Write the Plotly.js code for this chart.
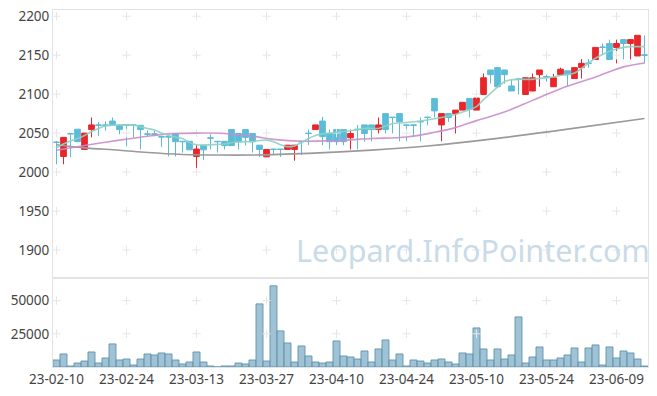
<!DOCTYPE html>
<html><head><meta charset="utf-8">
<script src="https://cdn.plot.ly/plotly-3.0.1.min.js"></script>
<style>html,body{margin:0;padding:0;background:#fff;}#chart{width:657px;height:396px;}</style>
</head><body><div id="chart"></div>
<script>
const dates = ["23-02-10","23-02-13","23-02-14","23-02-15","23-02-16","23-02-17","23-02-20","23-02-21","23-02-22","23-02-23",
"23-02-24","23-02-27","23-02-28","23-03-02","23-03-03","23-03-06","23-03-07","23-03-08","23-03-09","23-03-10",
"23-03-13","23-03-14","23-03-15","23-03-16","23-03-17","23-03-20","23-03-21","23-03-22","23-03-23","23-03-24",
"23-03-27","23-03-28","23-03-29","23-03-30","23-03-31","23-04-03","23-04-04","23-04-05","23-04-06","23-04-07",
"23-04-10","23-04-11","23-04-12","23-04-13","23-04-14","23-04-17","23-04-18","23-04-19","23-04-20","23-04-21",
"23-04-24","23-04-25","23-04-26","23-04-27","23-04-28","23-05-02","23-05-03","23-05-04","23-05-08","23-05-09",
"23-05-10","23-05-11","23-05-12","23-05-15","23-05-16","23-05-17","23-05-18","23-05-19","23-05-22","23-05-23",
"23-05-24","23-05-25","23-05-26","23-05-30","23-05-31","23-06-01","23-06-02","23-06-05","23-06-07","23-06-08",
"23-06-09","23-06-12","23-06-13","23-06-14","23-06-15"];

const openV = [2038.5,2020,2049.5,2055,2029,2054.5,2060.5,2060.5,2065.5,2060,
2060.5,2060.5,2060,2049,2049,2045.5,2045.5,2049.5,2039.5,2039.5,
2020,2034.5,2044,2039.5,2039.5,2054.5,2049.5,2054.5,2049.5,2034.5,
2019.5,2029.5,2029.5,2029,2029,2039.5,2050,2054.5,2065.5,2049.5,
2054.5,2054.5,2044,2055,2060.5,2060.5,2054.5,2075,2070.5,2075,
2060.5,2060.5,2065,2070.5,2094.5,2060.5,2075,2075,2079.5,2094.5,
2079.5,2099.5,2131,2134,2131,2110.5,2119.5,2099.5,2104,2125,
2122.5,2109.5,2125,2130,2120,2134,2140,2144.5,2160.5,2165,
2160,2170,2165,2149,2150.5];
const highV = [2040,2045,2049.5,2055,2050,2070,2064.5,2065,2070,2060,
2060.5,2061,2060,2053.5,2053.5,2046,2046,2049.5,2039.5,2039.5,
2034.5,2034.5,2048.5,2039.5,2039.5,2054.5,2049.5,2054.5,2049.5,2034.5,
2029,2030,2029.5,2034.5,2034.5,2040,2054.5,2060.5,2071,2054.5,
2054.5,2054.5,2054.5,2060.5,2060.5,2060.5,2070,2075,2070.5,2075,
2060.5,2060.5,2070,2070.5,2094.5,2075,2075,2079.5,2089.5,2094.5,
2095,2126.5,2131,2134,2131,2119,2121,2121,2126.5,2131,
2125,2126,2134,2130,2134,2145,2145,2160,2165,2170,
2170,2170,2170,2175.5,2175.5];
const lowV = [2010,2010,2019,2039,2029,2044.5,2046,2053,2060,2048.5,
2033,2044.5,2029,2046,2046,2032,2020,2020,2025,2028.5,
2005,2015.5,2029,2025,2029,2034,2029,2034,2025,2019.5,
2019.5,2022,2019.5,2029,2014.5,2022,2034.5,2054.5,2034.5,2029,
2034.5,2034.5,2029,2029,2039,2039.5,2049.5,2049.5,2049.5,2039.5,
2039.5,2045,2039.5,2060,2070,2039.5,2064.5,2049.5,2079.5,2070,
2079.5,2099.5,2113.5,2109.5,2113.5,2104,2099.5,2099.5,2104,2109.5,
2116,2109.5,2125,2109.5,2120,2120,2134,2144.5,2150,2144.5,
2139.5,2144.5,2144.5,2149,2139.5];
const closeV = [2038,2044.5,2049,2039,2050,2060.5,2060,2060,2060.5,2054.5,
2060,2060,2054.5,2048.5,2048.5,2045,2045,2039,2039,2028.5,
2029.5,2028.5,2043.5,2039,2034,2034,2039,2044.5,2039,2029,
2029,2029,2029,2034.5,2034.5,2039,2049.5,2060.5,2045.5,2039,
2039,2039,2049.5,2054.5,2049.5,2054.5,2060.5,2054.5,2070,2064.5,
2060,2060,2064.5,2070,2078.5,2075,2070,2079.5,2089.5,2080.5,
2095,2121,2125,2109.5,2125,2104,2119,2121,2121,2131,
2122,2121,2132,2125,2134,2139.5,2139.5,2160,2160,2144.5,
2165,2165,2170,2175.5,2150];

const volume = [5280,9800,750,3000,4500,11300,3000,6800,17350,5300,
6000,1500,6000,9800,9050,10560,9800,5280,2260,3770,
11300,3770,750,0,750,750,3000,2260,5280,47500,
4500,61100,27150,18100,3770,15840,8300,3770,3000,3770,
19600,8300,7540,6030,12070,3770,13580,20360,5280,9800,
750,5280,4500,3000,5280,6030,3770,2260,10560,9800,
29400,13580,5280,13580,6030,9050,37700,3000,7540,15080,
5280,5280,6800,9050,14330,3770,14330,16590,1500,15080,
6800,12070,10560,6030,750];

const maShort = [2031,2036,2040,2043,2047,2052,2056,2059,2060,2060.5,
2060.5,2060,2058,2056,2054,2050,2047,2045,2043,2038,
2035,2034.5,2035,2035.5,2036,2037.5,2038.5,2039,2039,2040.5,
2041,2039,2035,2032.5,2033.5,2038,2043,2047,2049,2050,
2051,2052,2053,2054.5,2056,2056,2056,2059,2062,2063,
2063.5,2064.5,2065.5,2067,2068.5,2070,2072,2074,2077,2080,
2084,2093,2101,2109,2116,2118.5,2119,2119,2119,2120,
2121,2122,2124,2125,2127,2133,2140,2146,2151,2155,
2158,2160,2161,2161,2161];

const maMidIdx = [0,4,9,13,16,20,24,28,31,35,40,45,50,54,57,60,64,68,72,77,81,84];
const maMidVal = [2028,2034,2041,2046,2049,2050,2049.5,2046,2042,2039.5,2040.5,2043,2045,2051,2057,2066,2077,2092,2107,2122,2135,2140];

const maLongIdx = [0,4,9,13,18,23,28,36,45,53,63,72,84];
const maLongVal = [2035,2031,2028,2025,2022.6,2021.8,2021.8,2024,2028.2,2033.5,2043.2,2053.8,2068.8];

const xTickIdx = [0,10,20,30,40,50,60,70,80];
const priceTicks = [1900,1950,2000,2050,2100,2150,2200];
const volTicks = [25000,50000];
const volTickText = ["25000","50000"];
const watermark = "Leopard.InfoPointer.com";

const UP = "#e8262b", DOWN = "#5bbcd9";
const xTickVals = xTickIdx.map(i => dates[i]);

// faint grid crosses at tick intersections
const gx = [], gy = [], gx2 = [], gy2 = [];
xTickVals.forEach(d => {
  priceTicks.forEach(v => { gx.push(d); gy.push(v); });
  volTicks.forEach(v => { gx2.push(d); gy2.push(v); });
});
const crossMarker = {symbol: "cross-thin", size: 6, color: "#e6e6e6", line: {color: "#e6e6e6", width: 1}};

const traces = [
  {type: "scatter", mode: "markers", x: gx, y: gy, xaxis: "x", yaxis: "y", marker: crossMarker, hoverinfo: "skip"},
  {type: "scatter", mode: "markers", x: gx2, y: gy2, xaxis: "x", yaxis: "y2", marker: crossMarker, hoverinfo: "skip"},
  {type: "bar", x: dates, y: volume, xaxis: "x", yaxis: "y2",
   marker: {color: "rgba(135,180,202,0.8)", line: {color: "rgba(95,148,174,0.9)", width: 1}}, hoverinfo: "skip"},
  {type: "candlestick", x: dates, open: openV, high: highV, low: lowV, close: closeV, xaxis: "x", yaxis: "y",
   increasing: {line: {color: UP, width: 1}, fillcolor: UP},
   decreasing: {line: {color: DOWN, width: 1}, fillcolor: DOWN},
   whiskerwidth: 0, hoverinfo: "skip"},
  {type: "scatter", mode: "lines", x: maLongIdx.map(i => dates[i]), y: maLongVal, xaxis: "x", yaxis: "y",
   line: {color: "#9a9a9a", width: 1.6, shape: "spline", smoothing: 1}, hoverinfo: "skip"},
  {type: "scatter", mode: "lines", x: maMidIdx.map(i => dates[i]), y: maMidVal, xaxis: "x", yaxis: "y",
   line: {color: "#cc8ccb", width: 1.6, shape: "spline", smoothing: 1}, opacity: 0.9, hoverinfo: "skip"},
  {type: "scatter", mode: "lines", x: dates, y: maShort, xaxis: "x", yaxis: "y",
   line: {color: "#8ed2c2", width: 1.6, shape: "spline", smoothing: 0.8}, opacity: 0.9, hoverinfo: "skip"}
];

const tickFont = {family: "Noto Sans, sans-serif", size: 13.5, color: "#444"};
const layout = {
  width: 657, height: 396,
  margin: {l: 53, r: 9, t: 10, b: 29},
  paper_bgcolor: "#fff", plot_bgcolor: "#fff",
  showlegend: false,
  bargap: 0,
  boxgap: 0.1, boxgroupgap: 0.1,
  xaxis: {type: "category", categoryorder: "array", categoryarray: dates,
    range: [-0.5, dates.length - 0.5], anchor: "y2",
    tickmode: "array", tickvals: xTickVals, ticktext: xTickVals,
    tickfont: tickFont, ticks: "", showgrid: false, zeroline: false,
    showline: true, linecolor: "#e3e3e3", linewidth: 1, mirror: "all",
    rangeslider: {visible: false}, fixedrange: true},
  yaxis: {domain: [0.2493, 1], range: [1864, 2208],
    tickmode: "array", tickvals: priceTicks, ticktext: priceTicks.map(String),
    tickfont: tickFont, ticks: "", showgrid: false, zeroline: false,
    showline: true, linecolor: "#e3e3e3", linewidth: 1, mirror: "all", fixedrange: true},
  yaxis2: {domain: [0, 0.2493], range: [0, 67000],
    tickmode: "array", tickvals: volTicks, ticktext: volTickText,
    tickfont: tickFont, ticks: "", showgrid: false, zeroline: false,
    showline: true, linecolor: "#e3e3e3", linewidth: 1, mirror: "all", fixedrange: true},
  annotations: [{text: watermark, xref: "paper", yref: "paper", x: 1.007, y: 0.328,
    xanchor: "right", yanchor: "middle", showarrow: false,
    font: {family: "Noto Sans, sans-serif", size: 30.5, color: "#c9dbe7"}}]
};

Plotly.newPlot("chart", traces, layout, {displayModeBar: false, staticPlot: true});
</script>
</body></html>
